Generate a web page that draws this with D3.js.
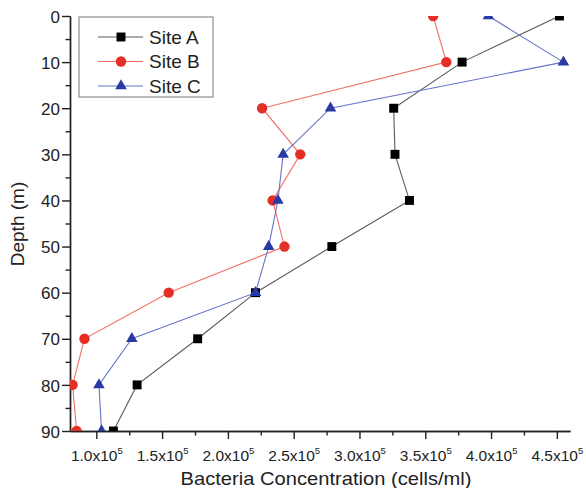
<!DOCTYPE html>
<html>
<head>
<style>
	body { margin: 0; background: #fff; }
	svg { font-family: "Liberation Sans", Arial, sans-serif; }
	.axis path, .axis line { stroke: #222; stroke-width: 1.4px; }
	.axis text { fill: #222; }
	.title { font-size: 19px; fill: #222; }
</style>
<script src="https://d3js.org/d3.v7.min.js"></script>
</head>
<body>
<script>
	var depths = [0, 10, 20, 30, 40, 50, 60, 70, 80, 90];
	var siteA = [4.52e5, 3.78e5, 3.26e5, 3.27e5, 3.38e5, 2.79e5, 2.21e5, 1.77e5, 1.31e5, 1.13e5];
	var siteB = [3.56e5, 3.66e5, 2.26e5, 2.55e5, 2.34e5, 2.43e5, 1.55e5, 0.91e5, 0.82e5, 0.85e5];
	var siteC = [3.98e5, 4.55e5, 2.78e5, 2.42e5, 2.38e5, 2.31e5, 2.21e5, 1.27e5, 1.02e5, 1.04e5];
	var seriesNames = ["Site A", "Site B", "Site C"];
	var xTicks = [1.0e5, 1.5e5, 2.0e5, 2.5e5, 3.0e5, 3.5e5, 4.0e5, 4.5e5];
	var yTicks = [0, 10, 20, 30, 40, 50, 60, 70, 80, 90];

	function draw() {
		"use strict";
		var width = 586, height = 488;
		var mLeft = 70, mRight = 570, mTop = 16, mBottom = 431;
		var font = "'Liberation Sans', Arial, sans-serif";

		var svg = d3.select("body").append("svg")
			.attr("width", width)
			.attr("height", height);

		var x = d3.scaleLinear().domain([0.8e5, 4.6e5]).range([mLeft, mRight]);
		var y = d3.scaleLinear().domain([0, 90]).range([mTop, mBottom]);

		var series = [
			{name: seriesNames[0], values: siteA, color: "#000", line: "#5a5a5a", shape: d3.symbolSquare, size: 80},
			{name: seriesNames[1], values: siteB, color: "#e52e26", line: "#f07068", shape: d3.symbolCircle, size: 85},
			{name: seriesNames[2], values: siteC, color: "#2a3aa5", line: "#6674c8", shape: d3.symbolTriangle, size: 58}
		];

		svg.append("clipPath").attr("id", "plot")
		  .append("rect")
			.attr("x", mLeft).attr("y", mTop)
			.attr("width", mRight - mLeft).attr("height", mBottom - mTop);

		// minor ticks
		var xMinor = d3.range(1.25e5, 4.6e5, 0.5e5);
		var yMinor = d3.range(5, 90, 10);

		svg.append("g").attr("class", "axis")
			.attr("transform", "translate(0," + mBottom + ")")
			.call(d3.axisBottom(x).tickValues(xMinor).tickSize(4.5).tickFormat("").tickSizeOuter(0));
		svg.append("g").attr("class", "axis")
			.attr("transform", "translate(" + mLeft + ",0)")
			.call(d3.axisLeft(y).tickValues(yMinor).tickSize(4.5).tickFormat("").tickSizeOuter(0));

		var xAxis = svg.append("g").attr("class", "axis")
			.attr("transform", "translate(0," + mBottom + ")")
			.call(d3.axisBottom(x).tickValues(xTicks).tickSize(8).tickSizeOuter(0).tickPadding(10.5).tickFormat(""))
			.attr("font-family", font);

		xAxis.selectAll(".tick text").each(function(d){
			var t = d3.select(this).attr("font-size", 15.5).attr("text-anchor", "middle");
			t.append("tspan").text((d / 1e5).toFixed(1) + "x10");
			t.append("tspan").attr("dy", -6.5).attr("font-size", 9.5).text("5");
		});

		svg.append("g").attr("class", "axis")
			.attr("transform", "translate(" + mLeft + ",0)")
			.call(d3.axisLeft(y).tickValues(yTicks).tickSize(8).tickSizeOuter(0).tickPadding(2))
			.attr("font-family", font)
			.selectAll("text").attr("font-size", 17).attr("dy", "0.36em");

		var plot = svg.append("g").attr("clip-path", "url(#plot)");

		series.forEach(function(s){
			var pts = s.values.map(function(v, i){ return [x(v), y(depths[i])]; });
			plot.append("path")
				.attr("d", d3.line()(pts))
				.attr("fill", "none")
				.attr("stroke", s.line)
				.attr("stroke-width", 1.1);
		});
		series.forEach(function(s){
			plot.selectAll(null)
				.data(s.values)
				.enter().append("path")
				.attr("d", d3.symbol().type(s.shape).size(s.size))
				.attr("transform", function(v, i){ return "translate(" + x(v) + "," + y(depths[i]) + ")"; })
				.attr("fill", s.color);
		});

		// legend
		var lg = svg.append("g").attr("transform", "translate(79,17)");
		lg.append("rect")
			.attr("width", 134).attr("height", 80)
			.attr("fill", "#fff").attr("stroke", "#777").attr("stroke-width", 1);
		series.forEach(function(s, i){
			var row = lg.append("g").attr("transform", "translate(0," + (20 + i * 24.5) + ")");
			row.append("line").attr("x1", 19).attr("x2", 64)
				.attr("stroke", s.line).attr("stroke-width", 1.1);
			row.append("path")
				.attr("d", d3.symbol().type(s.shape).size(s.size))
				.attr("transform", "translate(42,0)")
				.attr("fill", s.color);
			row.append("text").attr("x", 70).attr("dy", "0.36em")
				.attr("class", "title").attr("font-size", 19.5).text(s.name);
		});

		svg.append("text").attr("class", "title")
			.attr("x", 326).attr("y", 485)
			.attr("text-anchor", "middle")
			.attr("font-size", 19.5)
			.attr("textLength", 291)
			.attr("lengthAdjust", "spacingAndGlyphs")
			.text("Bacteria Concentration (cells/ml)");

		svg.append("text").attr("class", "title")
			.attr("transform", "translate(24," + 224 + ") rotate(-90)")
			.attr("text-anchor", "middle")
			.text("Depth (m)");
	}
	draw();
</script>
</body>
</html>
